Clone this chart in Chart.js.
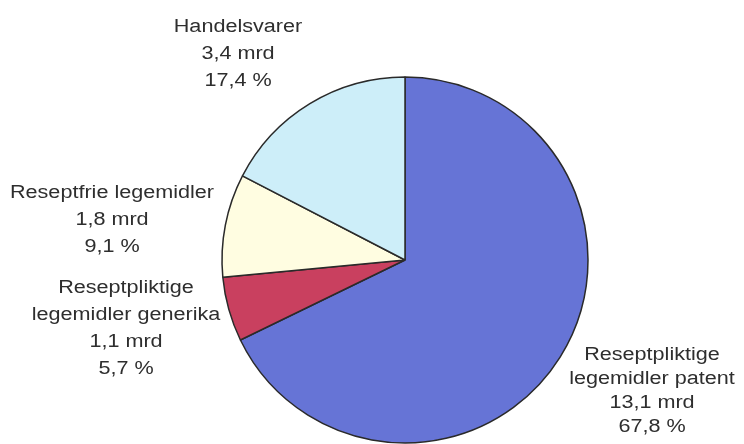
<!DOCTYPE html>
<html>
<head>
<meta charset="utf-8">
<script src="https://cdn.jsdelivr.net/npm/chart.js@4"></script>
<style>
  html, body { margin: 0; padding: 0; background: #fff; }
  #wrap { width: 744px; height: 444px; }
</style>
</head>
<body>
<div id="wrap"><canvas id="pieChart" width="744" height="444"></canvas></div>
<script>
// Data (clockwise from 12 o'clock)
const categories = ['Reseptpliktige legemidler patent', 'Reseptpliktige legemidler generika', 'Reseptfrie legemidler', 'Handelsvarer'];
const shares = [67.8, 5.7, 9.1, 17.4];
const amounts = ['13,1 mrd', '1,1 mrd', '1,8 mrd', '3,4 mrd'];
const nameLines = [
  ['Reseptpliktige', 'legemidler patent'],
  ['Reseptpliktige', 'legemidler generika'],
  ['Reseptfrie legemidler'],
  ['Handelsvarer']
];

const colors = ['#6674d6', '#c9405f', '#fffde1', '#cdeef9'];

// label anchor (first line centre) relative to pie centre, and line step
const labelOffsets = [[247, 95], [-279, 28], [-293, -67], [-167, -233]];
const lineSteps = [24, 27, 27, 27];

const labelPlugin = {
  id: 'sliceLabels',
  afterDraw(chart) {
    const ctx = chart.ctx;
    const arcs = chart.getDatasetMeta(0).data;
    const cx = arcs[0].x, cy = arcs[0].y;
    ctx.save();
    ctx.fillStyle = '#2e2e2e';
    ctx.font = '18px "Liberation Sans", Arial, sans-serif';
    ctx.textAlign = 'center';
    ctx.textBaseline = 'middle';
    shares.forEach((v, i) => {
      const lines = nameLines[i].concat([amounts[i], v.toFixed(1).replace('.', ',') + ' %']);
      const x = cx + labelOffsets[i][0];
      let y = cy + labelOffsets[i][1];
      lines.forEach(t => {
        ctx.save();
        ctx.translate(x, y);
        ctx.scale(1.2, 1);
        ctx.fillText(t, 0, 0);
        ctx.restore();
        y += lineSteps[i];
      });
    });
    ctx.restore();
  }
};

new Chart(document.getElementById('pieChart'), {
  type: 'pie',
  data: {
    labels: categories,
    datasets: [{
      data: shares,
      backgroundColor: colors,
      borderColor: '#2a2a2a',
      borderWidth: 1.5
    }]
  },
  options: {
    responsive: false,
    animation: false,
    radius: 183,
    layout: { padding: { left: 222, right: 156, top: 77, bottom: 1 } },
    plugins: {
      legend: { display: false },
      tooltip: { enabled: false }
    }
  },
  plugins: [labelPlugin]
});
</script>
</body>
</html>
